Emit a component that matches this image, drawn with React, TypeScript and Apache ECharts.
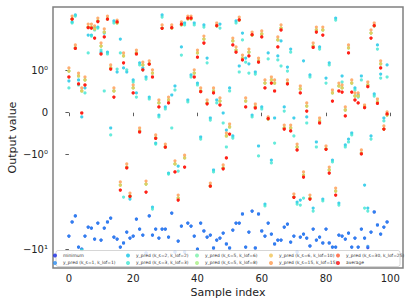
import React, { useEffect, useRef } from "react";
import * as echarts from "echarts";

const sampleIndex: number[] = Array.from({ length: 100 }, (_, i) => i);

const xTicks = [0, 20, 40, 60, 80, 100];
const yTickValues = [1, 0, -1, -10];
const yTickLabels = ["10⁰", "0", "−10⁰", "−10¹"];

const minimumValues = [
  -7.23, -5.14, -4.44, -9.45, -9.92, -7.23, -5.81, -5.95, -7.78, -5.27,
  -7.97, -5.95, -5.14, -4.67, -7.41, -7.78, -9.45, -8.57, -6.56, -7.59,
  -7.23, -4.78, -6.1, -7.06, -10.93, -4.44, -7.06, -6.1, -7.59, -6.1,
  -6.1, -7.41, -4.13, -10.67, -8.17, -5.67, -10.67, -5.27, -5.67, -7.23,
  -9.92, -5.27, -6.4, -7.41, -7.06, -9.68, -7.97, -7.59, -6.72, -8.78,
  -9.68, -6.25, -5.27, -5.27, -4.23, -9.45, -6.56, -3.94, -9.68, -4.23,
  -6.4, -7.23, -5.27, -6.89, -8.78, -7.97, -7.97, -5.81, -5.4, -8.37,
  -7.23, -10.67, -7.41, -6.89, -7.59, -9.22, -6.1, -7.97, -7.41, -8.57,
  -6.1, -8.57, -9.45, -9.45, -7.06, -7.23, -7.78, -6.72, -9.45, -7.59,
  -9.45, -6.1, -7.59, -9.6, -6.56, -4.03, -5.53, -6.89, -5.81, -5.14,
];

const kS1Values = [
  -7.23, -5.14, -4.44, -9.45, -9.92, -7.23, -5.81, -5.95, -7.78, -5.27,
  -7.97, -5.95, -5.14, -4.67, -7.41, -7.78, -9.45, -8.57, -6.56, -7.59,
  -7.23, -4.78, -6.1, -7.06, -10.93, -4.44, -7.06, -6.1, -7.59, -6.1,
  -6.1, -7.41, -4.13, -10.67, -8.17, -5.67, -10.67, -5.27, -5.67, -7.23,
  -9.92, -5.27, -6.4, -7.41, -7.06, -9.68, -7.97, -7.59, -6.72, -8.78,
  -9.68, -6.25, -5.27, -5.27, -4.23, -9.45, -6.56, -3.94, -9.68, -4.23,
  -6.4, -7.23, -5.27, -6.89, -8.78, -7.97, -7.97, -5.81, -5.4, -8.37,
  -7.23, -10.67, -7.41, -6.89, -7.59, -9.22, -6.1, -7.97, -7.41, -8.57,
  -6.1, -8.57, -9.45, -9.45, -7.06, -7.23, -7.78, -6.72, -9.45, -7.59,
  -9.45, -6.1, -7.59, -9.3, -6.56, -4.03, -5.53, -6.89, -5.81, -5.14,
];

const kS2Values = [
  0.754, 3.27, 3.88, 0.778, -0.102, 0.588, 2.38, 2.38, 2.82, 2.89,
  1.57, 2.5, 1.57, -0.364, 3.35, 0.968, 2.16, 1.07, 0.968, -2.94,
  0.778, 0.469, 1.21, 1.07, 0.849, 0.373, -3.57, -0.721, -0.055, 3.88,
  0.136, -1.56, 0.421, 0.635, -1.32, 1.78, 3.19, 0.302, 0.897, 3.19,
  0.706, -0.578, 3.04, 1.36, -0.126, -1.45, 0.302, 3.11, -0.007, -0.412,
  0.588, -0.554, 3.35, 1.12, 2.5, 1.36, 1.18, -0.055, 0.968, -0.792,
  0.136, -3.32, 1.54, -1.14, -0.126, 1.43, 2.06, 0.136, 1.09, 1.69,
  -0.126, -3.16, -3.01, 1.27, -0.102, 0.897, -3.66, -0.697, 1.78, -2.94,
  0.825, 1.21, -1.14, 3.6, -3.24, 0.873, -0.768, -0.626, -0.483, 0.588,
  0.421, 0.873, -2.09, -3.66, -0.554, 0.445, 1.87, 0.92, -0.126, 1.15,
];

const kS3Values = [
  0.588, 3.19, 3.78, 0.659, -10.16, 0.469, 1.54, 2.32, 2.69, 2.82,
  1.65, 0.516, 1.5, -0.53, 3.19, 1.04, 1.54, -2.8, 1.02, -2.8,
  0.73, 0.373, 1.15, 1.02, 0.8, 0.326, -3.75, -0.745, -0.102, 3.69,
  0.088, -1.6, -0.364, 0.54, -1.49, 1.46, 3.04, 0.255, 0.849, 3.04,
  0.659, -0.626, 2.89, 1.21, -0.174, -1.52, 0.231, 2.82, -0.245, -0.816,
  0.516, -0.602, 3.19, 0.968, 2.11, 1.23, 0.944, -0.102, 0.92, -1.03,
  0.088, -3.48, 1.33, -1.22, -0.721, 1.3, 1.12, 0.04, 0.99, 1.57,
  -0.554, -3.32, -3.4, -2.87, -0.245, 0.849, -3.94, -0.816, 1.69, -3.08,
  0.706, 1.15, -1.19, 3.43, -3.4, 0.73, -0.816, -0.697, -0.53, 0.54,
  0.373, 0.778, -3.66, -3.94, -0.626, 0.397, 1.69, 0.825, -0.197, 0.849,
];

const kS5Lof6Values = [
  0.99, 3.52, 1.74, 0.873, 0.516, 0.778, 2.89, 2.89, 2.76, 3.35,
  1.82, 2.56, 3.52, 1.07, 0.516, 3.19, -2.09, 1.43, -1.35, -2.73,
  0.588, 1.54, -0.435, 1.15, -2.04, 1.18, 0.944, -0.602, 0.231, 2.82,
  -0.816, 0.302, 2.82, -1.25, -2.87, 3.04, -1.08, 3.52, 3.52, 0.944,
  1.54, 0.516, 2.16, 0.231, -2.14, 0.516, 2.97, 0.278, -1.38, -0.554,
  -0.34, 2.06, 1.65, 3.43, 1.36, 0.278, 1.57, 2.38, 0.136, 1.27,
  2.44, 0.706, -0.15, 0.778, 0.706, 2.11, 2.82, -0.364, 0.706, -0.364,
  -2.8, -0.816, 0.564, -1.64, 0.159, -2.87, 1.82, 2.69, -0.197, 2.69,
  -0.863, -1.45, 0.469, -2.42, 0.635, 0.588, 0.064, 1.74, 0.706, 0.397,
  0.397, -0.959, 0.136, 0.659, 2.5, 2.97, 0.255, 1.18, -0.388, -0.055,
];

const kS5Lof8Values = [
  0.99, 3.52, 1.74, 0.873, 0.516, 0.778, 2.89, 2.89, 2.76, 3.35,
  1.82, 2.56, 3.52, 1.07, 0.516, 3.19, -2.09, 1.43, -1.35, -2.73,
  0.588, 1.54, -0.435, 1.15, -2.04, 1.18, 0.944, -0.602, 0.231, 2.82,
  -0.816, 0.302, 2.82, -1.25, -2.87, 3.04, -1.08, 3.52, 3.52, 0.944,
  1.54, 0.516, 2.16, 0.231, -2.14, 0.516, 2.97, 0.278, -1.38, -0.554,
  -0.34, 2.06, 1.65, 3.43, 1.36, 0.278, 1.57, 2.38, 0.136, 1.27,
  2.44, 0.706, -0.15, 0.778, 0.706, 2.11, 2.82, -0.364, 0.706, -0.364,
  -2.8, -0.816, 0.564, -1.64, 0.159, -2.87, 1.82, 2.69, -0.197, 2.69,
  -0.863, -1.45, 0.469, -2.42, 0.635, 0.588, 0.064, 1.74, 0.706, 0.397,
  0.397, -0.959, 0.136, 0.659, 2.5, 2.97, 0.255, 1.18, -0.388, -0.055,
];

const kS6Lof10Values = [
  0.99, 3.52, 1.74, 0.873, 0.516, 0.778, 2.89, 2.89, 2.76, 3.35,
  1.82, 2.56, 3.52, 1.07, 0.516, 3.19, -2.09, 1.43, -1.35, -2.73,
  0.588, 1.54, -0.435, 1.15, -2.04, 1.18, 0.944, -0.602, 0.231, 2.82,
  -0.816, 0.302, 2.82, -1.25, -2.87, 3.04, -1.08, 3.52, 3.52, 0.944,
  1.54, 0.516, 2.16, 0.231, -2.14, 0.516, 2.97, 0.278, -1.38, -0.554,
  -0.34, 2.06, 1.65, 3.43, 1.36, 0.278, 1.57, 2.38, 0.136, 1.27,
  2.44, 0.706, -0.15, 0.778, 0.706, 2.11, 2.82, -0.364, 0.706, -0.364,
  -2.8, -0.816, 0.564, -1.64, 0.159, -2.87, 1.82, 2.69, -0.197, 2.69,
  -0.863, -1.45, 0.469, -2.42, 0.635, 0.588, 0.064, 1.74, 0.706, 0.397,
  0.397, -0.959, 0.136, 0.659, 2.5, 2.97, 0.255, 1.18, -0.388, -0.055,
];

const kS15Values = [
  1.07, 3.78, 1.87, 0.944, 0.588, 0.849, 3.11, 3.11, 2.97, 3.6,
  1.96, 2.76, 3.78, 1.15, 0.588, 3.43, -1.94, 1.54, -1.25, -2.54,
  0.659, 1.65, -0.364, 1.23, -1.9, 1.27, 1.02, -0.53, 0.302, 3.04,
  -0.745, 0.373, 3.04, -1.16, -2.67, 3.27, -1.01, 3.78, 3.78, 1.02,
  1.65, 0.588, 2.32, 0.302, -1.99, 0.588, 3.19, 0.35, -1.28, -0.483,
  -0.269, 2.21, 1.78, 3.69, 1.46, 0.35, 1.69, 2.56, 0.207, 1.36,
  2.63, 0.778, -0.102, 0.849, 0.778, 2.27, 3.04, -0.293, 0.778, -0.293,
  -2.6, -0.745, 0.635, -1.52, 0.231, -2.67, 1.96, 2.89, -0.126, 2.89,
  -0.792, -1.35, 0.54, -2.25, 0.706, 0.659, 0.136, 1.87, 0.778, 0.469,
  0.469, -0.887, 0.183, 0.73, 2.69, 3.19, 0.326, 1.27, -0.316, 0.017,
];

const kS30Values = [
  0.849, 3.5, 1.72, 0.683, -0.007, 0.659, 2.85, 2.82, 2.21, 3.3,
  1.5, 2.27, 3.5, 1.04, 0.373, 3.27, -2.36, 1.21, -1.38, -2.75,
  0.469, 1.5, -0.459, 1.02, -2.48, 1.17, 0.849, -0.61, 0.136, 2.8,
  -0.82, 0.231, 2.85, -1.52, -3.01, 3.1, -1.35, 3.6, 3.6, 0.849,
  1.39, 0.5, 1.96, 0.21, -2.15, 0.469, 3.0, 0.183, -1.41, -1.08,
  -0.507, 1.87, 1.57, 3.45, 1.3, 0.136, 1.43, 2.4, 0.112, 1.23,
  2.27, 0.588, -0.14, 0.706, 0.516, 1.78, 2.69, -0.388, 0.683, -0.435,
  -2.82, -0.887, 0.469, -1.72, 0.04, -2.94, 1.76, 2.56, -0.245, 2.38,
  -0.87, -1.56, 0.278, -2.67, 0.516, 0.492, -0.078, 1.54, 0.492, 0.302,
  0.231, -0.982, 0.12, 0.62, 2.21, 3.0, 0.22, 1.07, -0.39, -0.03,
];

const averageValues = [
  0.849, 3.5, 1.72, 0.683, -0.007, 0.659, 2.85, 2.82, 2.21, 3.3,
  1.5, 2.27, 3.5, 1.04, 0.373, 3.27, -2.36, 1.21, -1.38, -2.75,
  0.469, 1.5, -0.459, 1.02, -2.48, 1.17, 0.849, -0.61, 0.136, 2.8,
  -0.82, 0.231, 2.85, -1.52, -3.01, 3.1, -1.35, 3.6, 3.6, 0.849,
  1.39, 0.5, 1.96, 0.21, -2.15, 0.469, 3.0, 0.183, -1.41, -1.08,
  -0.507, 1.87, 1.57, 3.45, 1.3, 0.136, 1.43, 2.4, 0.112, 1.23,
  2.27, 0.588, -0.14, 0.706, 0.516, 1.78, 2.69, -0.388, 0.683, -0.435,
  -2.82, -0.887, 0.469, -1.72, 0.04, -2.94, 1.76, 2.56, -0.245, 2.38,
  -0.87, -1.56, 0.278, -2.67, 0.516, 0.492, -0.078, 1.54, 0.492, 0.302,
  0.231, -0.982, 0.12, 0.62, 2.21, 3.0, 0.22, 1.07, -0.39, -0.03,
];

const seriesNames = [
  "minimum",
  "y_pred (k_s=1, k_lof=1)",
  "y_pred (k_s=2, k_lof=2)",
  "y_pred (k_s=3, k_lof=3)",
  "y_pred (k_s=5, k_lof=6)",
  "y_pred (k_s=5, k_lof=8)",
  "y_pred (k_s=6, k_lof=10)",
  "y_pred (k_s=15, k_lof=15)",
  "y_pred (k_s=30, k_lof=25)",
  "average",
];

const seriesValues = [
  minimumValues,
  kS1Values,
  kS2Values,
  kS3Values,
  kS5Lof6Values,
  kS5Lof8Values,
  kS6Lof10Values,
  kS15Values,
  kS30Values,
  averageValues,
];

const seriesColors = [
  "#1428e6",
  "#2a8cf0",
  "#14c4e6",
  "#3ee6d2",
  "#78f0a8",
  "#a8f082",
  "#f0c456",
  "#ff9a4e",
  "#ff5a30",
  "#ff0a0a",
];

const LIN = 0.4444;
function symlog(v: number): number {
  const a = Math.abs(v);
  if (a <= 1) return v * LIN;
  return Math.sign(v) * (LIN + Math.log10(a));
}

const yTickPositions = yTickValues.map(symlog);

export default function App() {
  const ref = useRef<HTMLDivElement>(null);
  useEffect(() => {
    if (!ref.current) return;
    const chart = echarts.init(ref.current, null, { renderer: "svg" });
    const font = "DejaVu Sans";
    const series = seriesNames.map((name, k) => ({
      name,
      type: "scatter",
      symbol: "circle",
      symbolSize: 3.2,
      itemStyle: { color: seriesColors[k], opacity: 0.8 },
      data: sampleIndex.map((i) => [i, symlog(seriesValues[k][i])]),
      z: 2,
    }));
    const legendCols = [
      { left: 53, names: [seriesNames[0], seriesNames[1]] },
      { left: 126, names: [seriesNames[2], seriesNames[3]] },
      { left: 195, names: [seriesNames[4], seriesNames[5]] },
      { left: 269, names: [seriesNames[6], seriesNames[7]] },
      { left: 336, names: [seriesNames[8], seriesNames[9]] },
    ];
    chart.setOption({
      animation: false,
      backgroundColor: "#ffffff",
      grid: {
        left: 53,
        top: 7,
        width: 350,
        height: 261,
        show: true,
        outerBoundsMode: "none",
        containLabel: false,
        borderColor: "#808080",
        borderWidth: 1.5,
        backgroundColor: "transparent",
      },
      xAxis: {
        type: "value",
        min: -4.95,
        max: 103.95,
        name: "Sample index",
        nameLocation: "middle",
        nameGap: 19,
        nameMoveOverlap: false,
        nameTextStyle: { fontFamily: font, fontSize: 11, color: "#222" },
        axisLine: { show: false },
        splitLine: { show: false },
        axisTick: {
          show: true,
          length: 3.5,
          customValues: xTicks,
          lineStyle: { color: "#333", width: 0.8 },
        },
        axisLabel: {
          customValues: xTicks,
          fontFamily: font,
          fontSize: 10,
          color: "#222",
          margin: 5,
          formatter: (v: number) => String(Math.round(v)),
        },
      },
      yAxis: {
        type: "value",
        min: -1.6416,
        max: 1.1173,
        name: "Output value",
        nameLocation: "middle",
        nameRotate: 90,
        nameGap: 35,
        nameMoveOverlap: false,
        nameTextStyle: { fontFamily: font, fontSize: 11, color: "#222" },
        axisLine: { show: false },
        splitLine: { show: false },
        axisTick: {
          show: true,
          length: 3.5,
          customValues: yTickPositions,
          lineStyle: { color: "#333", width: 0.8 },
        },
        axisLabel: {
          customValues: yTickPositions,
          fontFamily: font,
          fontSize: 10,
          color: "#222",
          margin: 5,
          formatter: (v: number) => {
            let best = 0;
            let bd = Infinity;
            yTickPositions.forEach((p, j) => {
              const d = Math.abs(p - v);
              if (d < bd) {
                bd = d;
                best = j;
              }
            });
            return yTickLabels[best];
          },
        },
      },
      graphic: [
        {
          type: "rect",
          z: 10,
          shape: { x: 56, y: 250.5, width: 344, height: 16, r: 2 },
          style: { fill: "rgba(255,255,255,0.85)", stroke: "#cccccc", lineWidth: 0.8 },
        },
      ],
      legend: legendCols.map((c) => ({
        data: c.names.map((n) => ({ name: n, icon: "circle" })),
        orient: "vertical",
        left: c.left,
        top: 253,
        padding: 0,
        itemWidth: 4,
        itemHeight: 4,
        itemGap: 2.4,
        z: 20,
        selectedMode: false,
        textStyle: { fontFamily: font, fontSize: 4.4, color: "#333", lineHeight: 5, padding: [0, 0, 0, 1] },
      })),
      series,
    });
    return () => chart.dispose();
  }, []);
  return (
    <div
      ref={ref}
      style={{ position: "fixed", left: 0, top: 0, width: 411, height: 306 }}
    />
  );
}
